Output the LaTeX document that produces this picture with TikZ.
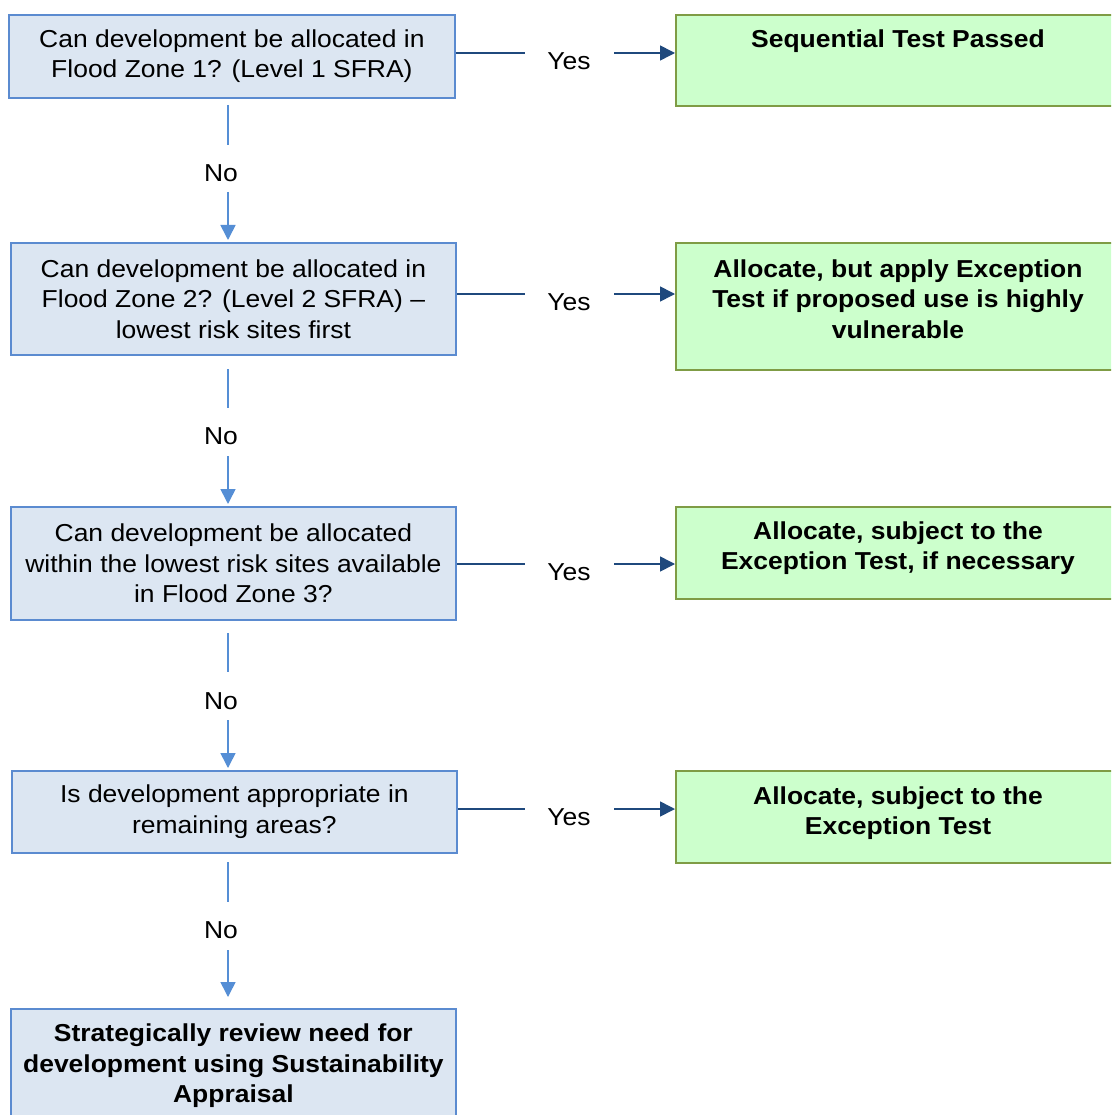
\documentclass[tikz,border=0pt]{standalone}
\usepackage{fontspec}
\setmainfont{Liberation Sans}[FakeStretch=1.08]
\usetikzlibrary{arrows.meta,calc}
\definecolor{bfill}{HTML}{DCE6F2}
\definecolor{bline}{HTML}{5B8BD0}
\definecolor{gfill}{HTML}{CCFFCC}
\definecolor{gline}{HTML}{7F9C45}
\definecolor{ycol}{HTML}{1F497D}
\definecolor{ncol}{HTML}{558ED5}
\begin{document}
\begin{tikzpicture}[x=1pt,y=-1pt,
  txt/.style={font=\fontsize{24.5}{30.5}\selectfont, align=center, text=black},
  btxt/.style={font=\bfseries\fontsize{24.5}{30.5}\selectfont, align=center, text=black},
  bbox/.style={draw=bline, fill=bfill, line width=1.8pt, anchor=north west, inner sep=0pt},
  gbox/.style={draw=gline, fill=gfill, line width=1.8pt, anchor=north west, inner sep=0pt},
  yesline/.style={draw=ycol, line width=1.6pt},
  noline/.style={draw=ncol, line width=1.6pt},
  ytip/.style={-{Triangle[length=15pt,width=15pt]}},
  lab/.style={txt, inner sep=0pt},
]
\useasboundingbox (0,0) rectangle (1111,1115);
\clip (0,0) rectangle (1111,1115);
\fill[white] (0,0) rectangle (1111,1115);

% question boxes
\node[bbox, txt, minimum width=446, minimum height=83] (b1) at (8,14)
  {Can development be allocated in\\Flood Zone 1? (Level 1 SFRA)};
\node[bbox, txt, minimum width=445, minimum height=112] (b2) at (10,242)
  {Can development be allocated in\\Flood Zone 2? (Level 2 SFRA) –\\lowest risk sites first};
\node[bbox, txt, minimum width=445, minimum height=113] (b3) at (10,506)
  {Can development be allocated\\within the lowest risk sites available\\in Flood Zone 3?};
\node[bbox, txt, minimum width=445, minimum height=82] (b4) at (11,770)
  {Is development appropriate in\\remaining areas?};
\node[bbox, btxt, minimum width=445, minimum height=114] (b5) at (10,1008)
  {Strategically review need for\\development using Sustainability\\Appraisal};

% outcome boxes
\node[gbox, minimum width=445, minimum height=91] (g1) at (675,14) {};
\node[gbox, minimum width=445, minimum height=127] (g2) at (675,242) {};
\node[gbox, minimum width=445, minimum height=92] (g3) at (675,506) {};
\node[gbox, minimum width=445, minimum height=92] (g4) at (675,770) {};
\node[btxt] (g1t) at (898,41) {Sequential Test Passed};
\node[btxt] (g2t) at (898,299) {Allocate, but apply Exception\\Test if proposed use is highly\\vulnerable};
\node[btxt] (g3t) at (898,548) {Allocate, subject to the\\Exception Test, if necessary};
\node[btxt] (g4t) at (898,813) {Allocate, subject to the\\Exception Test};

% Yes connectors
\foreach \i/\ly/\ty in {1/53/61, 2/294/302, 3/564/572, 4/809/817}{
  \coordinate (ya\i) at (525,\ly);
  \coordinate (yb\i) at (614,\ly);
  \node[lab] (y\i) at (569,\ty) {Yes};
  \draw[yesline] (b\i.east |- ya\i) -- (ya\i);
  \draw[yesline, ytip] (yb\i) -- (g\i.west |- yb\i);
}

% No connectors
\foreach \i/\j/\sa/\sb/\ty/\sc/\se in {1/2/105/145/173/192/240, 2/3/369/408/436/456/504, 3/4/633/672/701/720/768, 4/5/862/902/930/950/997}{
  \coordinate (na\i) at (228,\sa);
  \coordinate (nb\i) at (228,\sb);
  \coordinate (nc\i) at (228,\sc);
  \coordinate (nd\i) at (228,\se);
  \node[lab] (n\i) at (221,\ty) {No};
  \draw[noline] (na\i) -- (nb\i);
  \draw[noline, ytip] (nc\i) -- (nd\i);
}
\end{tikzpicture}
\end{document}
